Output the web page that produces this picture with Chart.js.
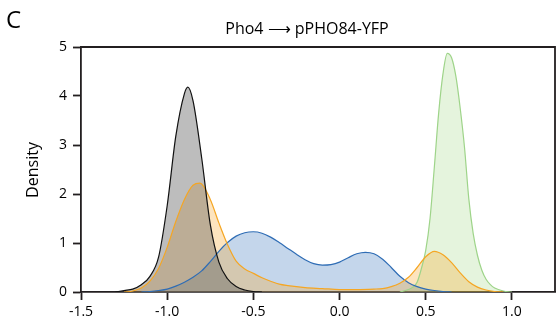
<!DOCTYPE html>
<html lang="en">
<head>
<meta charset="UTF-8">
<title>Pho4 - pPHO84-YFP</title>
<script src="https://cdn.jsdelivr.net/npm/chart.js"></script>
<style>
  body { margin: 0; background: white; }
  .wrap { width: 558px; height: 326px; }
</style>
</head>
<body>
<div class="wrap"><canvas id="chart" width="558" height="326"></canvas></div>
<script>
// density curves
const blackX = [-1.30, -1.25, -1.20, -1.15, -1.10, -1.05, -1.00, -0.95, -0.90, -0.88, -0.85, -0.80, -0.75, -0.70, -0.65, -0.60, -0.55, -0.50, -0.45];
const blackY = [0.00, 0.03, 0.06, 0.15, 0.32, 0.71, 1.76, 3.18, 4.05, 4.18, 3.90, 2.74, 1.38, 0.61, 0.27, 0.11, 0.04, 0.01, 0.00];

const orangeX = [-1.25, -1.20, -1.15, -1.10, -1.05, -1.00, -0.95, -0.90, -0.85, -0.81, -0.75, -0.70, -0.65, -0.60, -0.55, -0.50, -0.45, -0.40, -0.35, -0.30, -0.20, -0.10, 0.00, 0.10, 0.20, 0.25, 0.30, 0.35, 0.40, 0.45, 0.50, 0.55, 0.60, 0.65, 0.70, 0.75, 0.80, 0.85, 0.90, 0.95];
const orangeY = [0.00, 0.02, 0.08, 0.22, 0.48, 0.91, 1.44, 1.89, 2.18, 2.22, 1.89, 1.41, 0.97, 0.63, 0.47, 0.38, 0.29, 0.22, 0.16, 0.13, 0.09, 0.07, 0.05, 0.05, 0.06, 0.07, 0.11, 0.18, 0.30, 0.50, 0.72, 0.83, 0.76, 0.60, 0.39, 0.21, 0.10, 0.04, 0.01, 0.00];

const blueX = [-1.15, -1.10, -1.05, -1.00, -0.95, -0.90, -0.85, -0.80, -0.75, -0.70, -0.65, -0.60, -0.55, -0.50, -0.45, -0.40, -0.35, -0.30, -0.25, -0.20, -0.15, -0.10, -0.05, 0.00, 0.05, 0.10, 0.15, 0.20, 0.25, 0.30, 0.35, 0.40, 0.45, 0.50, 0.55, 0.60, 0.65];
const blueY = [0.00, 0.01, 0.03, 0.06, 0.12, 0.20, 0.30, 0.43, 0.62, 0.83, 1.01, 1.14, 1.21, 1.23, 1.20, 1.12, 1.01, 0.89, 0.77, 0.66, 0.58, 0.55, 0.56, 0.61, 0.70, 0.78, 0.81, 0.78, 0.67, 0.50, 0.32, 0.19, 0.11, 0.06, 0.03, 0.01, 0.00];

const greenX = [0.35, 0.40, 0.425, 0.45, 0.475, 0.50, 0.525, 0.55, 0.575, 0.60, 0.625, 0.65, 0.675, 0.70, 0.725, 0.75, 0.775, 0.80, 0.825, 0.85, 0.875, 0.90, 0.95, 1.00];
const greenY = [0.00, 0.05, 0.10, 0.20, 0.48, 0.85, 1.50, 2.55, 3.65, 4.45, 4.87, 4.78, 4.40, 3.75, 2.95, 1.90, 1.20, 0.75, 0.45, 0.26, 0.15, 0.08, 0.02, 0.00];

const xTickValues = [-1.5, -1.0, -0.5, 0.0, 0.5, 1.0];
const yTickValues = [0, 1, 2, 3, 4, 5];

const FONT = "'Open Sans', 'Noto Sans', sans-serif";
const AXIS = '#231f20';

function pts(xs, ys) {
  return xs.map((x, i) => ({ x: x, y: ys[i] }));
}

function curve(label, xs, ys, line, fill) {
  return {
    label: label,
    data: pts(xs, ys),
    borderColor: line,
    backgroundColor: fill,
    borderWidth: 1.2,
    pointRadius: 0,
    fill: 'origin',
    cubicInterpolationMode: 'monotone'
  };
}

// panel letter, title, y label and the box round the plot
const decorations = {
  id: 'decorations',
  afterDraw(chart) {
    const { ctx, chartArea } = chart;
    ctx.save();
    ctx.strokeStyle = AXIS;
    ctx.lineWidth = 1.8;
    ctx.beginPath();
    ctx.moveTo(chartArea.left, chartArea.top);
    ctx.lineTo(chartArea.right, chartArea.top);
    ctx.lineTo(chartArea.right, chartArea.bottom);
    ctx.stroke();

    ctx.fillStyle = '#000';
    ctx.textBaseline = 'alphabetic';
    ctx.textAlign = 'left';
    ctx.font = '24px ' + FONT;
    ctx.fillText('C', 6, 28);

    ctx.textAlign = 'center';
    ctx.font = '16px ' + FONT;
    ctx.fillText('Pho4 \u27F6 pPHO84-YFP', 307, 34);

    ctx.translate(38, 170);
    ctx.rotate(-Math.PI / 2);
    ctx.font = '16px ' + FONT;
    ctx.fillText('Density', 0, 0);
    ctx.restore();
  }
};

new Chart(document.getElementById('chart').getContext('2d'), {
  type: 'line',
  data: {
    datasets: [
      curve('black', blackX, blackY, '#111111', 'rgba(90,90,90,0.40)'),
      curve('orange', orangeX, orangeY, '#f5a623', 'rgba(247,166,40,0.30)'),
      curve('blue', blueX, blueY, '#2f6db5', 'rgba(60,120,190,0.30)'),
      curve('green', greenX, greenY, '#9ed489', 'rgba(150,210,120,0.25)')
    ]
  },
  options: {
    responsive: false,
    animation: false,
    layout: { padding: { top: 47, right: 3, left: 0, bottom: 0 } },
    plugins: {
      legend: { display: false },
      tooltip: { enabled: false },
      filler: { drawTime: 'beforeDatasetsDraw' }
    },
    scales: {
      x: {
        type: 'linear',
        min: -1.5,
        max: 1.25,
        afterBuildTicks: (s) => { s.ticks = xTickValues.map((v) => ({ value: v })); },
        afterFit: (s) => { s.height = 34; },
        grid: { drawOnChartArea: false, drawTicks: true, tickLength: 8, tickWidth: 1.8, tickColor: AXIS },
        border: { display: true, color: AXIS, width: 1.8 },
        ticks: {
          color: '#000',
          padding: 4,
          maxRotation: 0,
          font: { family: FONT, size: 14 },
          callback: (v) => Number(v).toFixed(1)
        }
      },
      y: {
        min: 0,
        max: 5,
        afterBuildTicks: (s) => { s.ticks = yTickValues.map((v) => ({ value: v })); },
        afterFit: (s) => { s.width = 81; },
        grid: { drawOnChartArea: false, drawTicks: true, tickLength: 8, tickWidth: 1.8, tickColor: AXIS },
        border: { display: true, color: AXIS, width: 1.8 },
        ticks: {
          color: '#000',
          padding: 6,
          font: { family: FONT, size: 14 }
        }
      }
    }
  },
  plugins: [decorations]
});
</script>
</body>
</html>
